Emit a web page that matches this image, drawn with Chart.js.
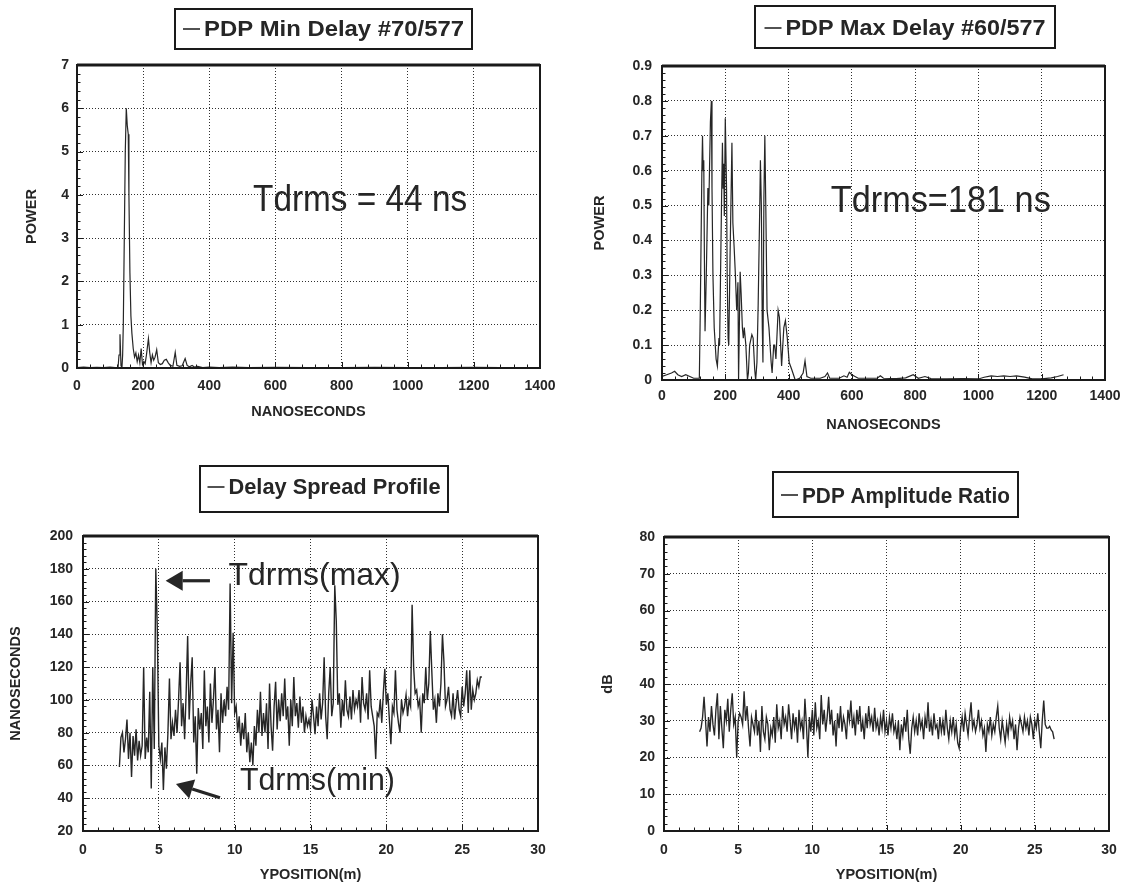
<!DOCTYPE html>
<html><head><meta charset="utf-8">
<script src="https://cdn.jsdelivr.net/npm/chart.js@4.4.1/dist/chart.umd.min.js"></script>
<style>
html,body{margin:0;padding:0;background:#fff;}
#wrap{position:relative;width:1133px;height:888px;overflow:hidden;background:#fff;}
canvas{position:absolute;}
</style></head><body>
<div id="wrap">
<canvas id="cMin" style="left:0px;top:0px;width:566px;height:444px" width="566" height="444"></canvas>
<canvas id="cMax" style="left:566px;top:0px;width:567px;height:444px" width="567" height="444"></canvas>
<canvas id="cSpread" style="left:0px;top:444px;width:566px;height:444px" width="566" height="444"></canvas>
<canvas id="cRatio" style="left:566px;top:444px;width:567px;height:444px" width="567" height="444"></canvas>
</div>
<script>
// ---------- DATA ----------
const pdpMinDelayNs = [0,20,40,60,80,100,115,124,127,130,133,136,138,140,143,146,149,152,155,157,160,163,166,170,174,178,182,186,190,194,198,202,206,210,216,220,224,228,232,236,241,246,252,258,264,270,276,282,290,297,302,310,318,327,333,340,348,356,365,380,400,430,470,520,600,700,800,900,1000,1100,1200,1280];
const pdpMinDelayPower = [0.01,0.02,0.01,0.015,0.01,0.02,0.01,0,0.3,0.78,0.05,0.02,0.3,1.0,3.0,5.0,6.0,5.6,5.4,4.0,2.2,1.2,0.8,0.45,0.25,0.35,0.15,0.3,0.12,0.45,0.08,0.15,0.1,0.3,0.68,0.35,0.12,0.3,0.18,0.25,0.42,0.12,0.08,0.1,0.18,0.2,0.12,0.06,0.04,0.36,0.06,0.04,0.05,0.22,0.06,0.03,0.06,0.02,0.04,0.01,0.02,0.01,0.02,0.01,0.015,0.01,0.01,0.015,0.01,0.01,0.015,0.01];

const pdpMaxDelayNs = [0,15,30,40,50,62,75,88,100,118,121,126,128,130,132,134,136,140,145,148,153,156,158,161,165,171,175,180,182,188,191,193,195,197,200,204,206,209,211,215,221,224,228,232,236,240,242,247,250,254,257,260,265,270,273,277,284,288,293,296,300,304,309,311,314,317,319,322,325,328,332,338,345,348,353,356,360,367,371,375,378,385,390,396,402,410,421,435,446,452,458,470,500,515,523,530,560,575,585,592,600,620,650,680,690,700,740,770,794,810,831,850,900,950,1000,1018,1040,1060,1080,1100,1120,1146,1170,1200,1230,1250,1269];
const pdpMaxDelayPower = [0.01,0.015,0.02,0.025,0.015,0.01,0.015,0.01,0.005,0.005,0.2,0.6,0.7,0.6,0.63,0.35,0.14,0.3,0.55,0.5,0.74,0.8,0.55,0.3,0.15,0.06,0.04,0.12,0.1,0.5,0.68,0.55,0.62,0.47,0.75,0.55,0.3,0.12,0.1,0.35,0.68,0.45,0.38,0.3,0.2,0.28,0.0,0.31,0.25,0.15,0.12,0.15,0.1,0.0,0.02,0.1,0.13,0.12,0.03,0.0,0.05,0.22,0.5,0.63,0.5,0.15,0.05,0.52,0.7,0.5,0.2,0.15,0.05,0.02,0.1,0.1,0.06,0.2,0.18,0.1,0.04,0.15,0.17,0.12,0.05,0.03,0.0,0.005,0.02,0.055,0.01,0.005,0.005,0.01,0.02,0.005,0.005,0.012,0.008,0.022,0.015,0.005,0.005,0.005,0.012,0.005,0.004,0.006,0.015,0.005,0.01,0.004,0.003,0.004,0.003,0.008,0.012,0.01,0.012,0.01,0.012,0.008,0.003,0.003,0.006,0.01,0.015];

// Y position sampling grid (m)
const positionStart = 2.4;
const positionStep = 0.1;

const delaySpreadNs = [
59,77,80,68,76,88,64,80,53,78,
66,82,63,75,66,72,120,64,77,68,
105,46,120,70,180,143,72,64,74,45,
71,58,80,113,76,86,78,94,80,100,
123,84,98,76,104,139,88,110,126,74,
90,55,95,82,92,70,118,84,96,74,
110,86,100,120,82,94,68,104,86,100,
90,108,94,171,98,141,92,96,80,90,
72,86,76,92,68,80,62,74,60,84,
72,94,80,105,78,92,80,98,70,110,
84,69,96,111,82,100,87,104,90,113,
88,96,72,100,84,114,90,98,83,102,
86,96,80,90,84,88,82,100,90,79,
96,84,104,88,98,126,90,76,104,120,
90,98,170,148,97,104,83,100,90,112,
94,90,102,88,106,94,100,96,106,86,
114,98,94,104,88,118,96,90,84,64,
92,90,100,86,104,119,97,104,88,73,
96,92,118,94,86,80,100,92,96,103,
90,100,96,158,120,104,106,96,100,80,
104,98,120,100,110,142,117,94,100,86,
104,96,110,140,123,96,100,108,94,90,
104,88,98,106,94,90,108,96,104,118,
92,118,94,106,100,104,112,108,114,114];

const amplitudeRatioDb = [
27,28,31,36.5,30,23,31,27,34,29,
26,33,37.5,25,34,28,22.5,33,30,36,
27,33,37.5,29,31,20,30,32,31,29,
38,30,34,28,23,31,29,27,33,26,
30,21.5,34,27,25,31,29,22,28,26,
31,24,34.5,28,30,25,34,29,31,27,
34.5,30,25,32,28,31,24,33,28,30,
25,36,29,20,31,27,33,26,35,28,
30,25,37,29,33,27,31,36.5,29,33,
26,30,23,32,28,34,27,31,29,25,
33,30,35.5,28,31,26,33,29,34,27,
30,25,32,28,34,29,31,27,33.5,28,
30,26,31,28,33,27,30,26,31,28,
32,27,29,25,30,22,29,26,31,27,
33,25,21,28,31,27,30,26,32,28,
30,25,31,28,35,27,30,26,32,28,
29,25,31,27,30,26,33,28,25,30,
27,31,26,29,24,22.5,28,31,27,32,
29,26,31,35,28,30,27,29,33,28,
30,26,28,21.5,29,27,31,26,29,27,
31,34,28,25,30,27,24,29,26,31,
28,30,25,29,22,28,31,29,27,31,
28,30,26,31,29,25,30,28,32,27,
22.5,30,35.5,29,28,28,28.5,27.5,27,25];

// tick values
const nsTicks = [0,200,400,600,800,1000,1200,1400];
const minPowerTicks = [0,1,2,3,4,5,6,7];
const maxPowerTicks = [0,0.1,0.2,0.3,0.4,0.5,0.6,0.7,0.8,0.9];
const positionTicks = [0,5,10,15,20,25,30];
const spreadTicks = [20,40,60,80,100,120,140,160,180,200];
const dbTicks = [0,10,20,30,40,50,60,70,80];

// ---------- STYLE ----------
const INK = '#262626', FRAME = '#1a1a1a', GRIDC = '#303030', TEXTC = '#262626';
const FAM = "'Liberation Sans', Arial, Helvetica, sans-serif";

function toPoints(xs, ys) { return ys.map((v, i) => ({ x: xs[i], y: v })); }
function gridPositions(n) { const a = []; for (let i = 0; i < n; i++) a.push(Math.round((positionStart + positionStep * i) * 100) / 100); return a; }

function fitText(ctx, text, x, y, width, align) {
  const w = ctx.measureText(text).width;
  const s = width ? width / w : 1;
  ctx.save();
  ctx.translate(x, y);
  ctx.scale(s, 1);
  ctx.textAlign = align;
  ctx.fillText(text, 0, 0);
  ctx.restore();
}

function makeChart(id, cfg) {
  const W = cfg.W, H = cfg.H, A = cfg.area;
  const decor = {
    id: 'decor_' + id,
    afterDraw(chart) {
      const { ctx, chartArea: a, scales: { x, y } } = chart;
      ctx.save();
      // notes
      ctx.fillStyle = TEXTC;
      for (const t of cfg.notes) {
        ctx.font = t.font; ctx.textBaseline = t.baseline;
        fitText(ctx, t.text, x.getPixelForValue(t.x), y.getPixelForValue(t.y), t.width, t.align);
      }
      for (const ar of cfg.arrows) {
        const x0 = x.getPixelForValue(ar.x0), y0 = y.getPixelForValue(ar.y0);
        const x1 = x.getPixelForValue(ar.x1), y1 = y.getPixelForValue(ar.y1);
        const ang = Math.atan2(y1 - y0, x1 - x0);
        const hl = 17, hw = 10;
        const bx = x1 - hl * Math.cos(ang), by = y1 - hl * Math.sin(ang);
        ctx.strokeStyle = TEXTC; ctx.lineWidth = 3.2;
        ctx.beginPath(); ctx.moveTo(x0, y0); ctx.lineTo(bx, by); ctx.stroke();
        ctx.beginPath();
        ctx.moveTo(x1, y1);
        ctx.lineTo(bx + hw * Math.sin(ang), by - hw * Math.cos(ang));
        ctx.lineTo(bx - hw * Math.sin(ang), by + hw * Math.cos(ang));
        ctx.closePath(); ctx.fill();
      }
      // tick marks (inward) on left and bottom
      ctx.strokeStyle = FRAME; ctx.lineWidth = 1;
      ctx.beginPath();
      const xt = cfg.xTicks, yt = cfg.yTicks, n = 5;
      for (let k = 0; k < xt.length; k++) {
        const px = Math.round(x.getPixelForValue(xt[k])) + 0.5;
        ctx.moveTo(px, a.bottom); ctx.lineTo(px, a.bottom - 6);
        if (k < xt.length - 1) for (let m = 1; m < n; m++) {
          const mp = Math.round(x.getPixelForValue(xt[k] + (xt[k + 1] - xt[k]) * m / n)) + 0.5;
          ctx.moveTo(mp, a.bottom); ctx.lineTo(mp, a.bottom - 3.5);
        }
      }
      for (let k = 0; k < yt.length; k++) {
        const py = Math.round(y.getPixelForValue(yt[k])) + 0.5;
        ctx.moveTo(a.left, py); ctx.lineTo(a.left + 6, py);
        if (k < yt.length - 1) for (let m = 1; m < n; m++) {
          const mp = Math.round(y.getPixelForValue(yt[k] + (yt[k + 1] - yt[k]) * m / n)) + 0.5;
          ctx.moveTo(a.left, mp); ctx.lineTo(a.left + 3.5, mp);
        }
      }
      ctx.stroke();
      // frame
      ctx.lineWidth = 2; ctx.strokeStyle = FRAME;
      ctx.strokeRect(a.left, a.top, a.right - a.left, a.bottom - a.top);
      ctx.beginPath(); ctx.moveTo(a.left, a.top); ctx.lineTo(a.right, a.top); ctx.lineWidth = 3; ctx.stroke();
      // legend box
      const L = cfg.legend, label = chart.data.datasets[0].label;
      ctx.lineWidth = 2;
      ctx.strokeRect(L.x, L.y, L.w, L.h);
      ctx.font = 'bold 22px ' + FAM; ctx.textBaseline = 'alphabetic';
      const sw = 17, gap = 4;
      const sx = L.x + (L.w - (sw + gap + L.tw)) / 2;
      ctx.lineWidth = 1.6; ctx.strokeStyle = INK;
      ctx.beginPath(); ctx.moveTo(sx, L.lineY); ctx.lineTo(sx + sw, L.lineY); ctx.stroke();
      ctx.fillStyle = TEXTC;
      fitText(ctx, label, sx + sw + gap, L.base, L.tw, 'left');
      ctx.restore();
    }
  };
  const tickFont = { family: FAM, size: 14, weight: 'bold' };
  const titleFont = { family: FAM, size: 14.5, weight: 'bold' };
  return new Chart(document.getElementById(id), {
    type: 'line',
    data: { datasets: [{ label: cfg.label, data: cfg.points, borderColor: INK, borderWidth: cfg.lineW, pointRadius: 0, tension: 0, fill: false }] },
    options: {
      responsive: false, animation: false, events: [],
      layout: { padding: { left: 0, top: A.top, right: W - A.right, bottom: H - A.bottom - cfg.xAxisH } },
      plugins: { legend: { display: false }, tooltip: { enabled: false } },
      scales: {
        x: {
          type: 'linear', min: cfg.xTicks[0], max: cfg.xTicks[cfg.xTicks.length - 1],
          afterBuildTicks: s => { s.ticks = cfg.xTicks.map(v => ({ value: v })); },
          ticks: { font: tickFont, color: TEXTC, padding: cfg.xTickPad, maxRotation: 0, autoSkip: false, callback: v => String(v) },
          grid: { color: GRIDC, lineWidth: 1, drawTicks: false },
          border: { display: false, dash: [1, 2] },
          title: { display: true, text: cfg.xTitle, font: titleFont, color: TEXTC, padding: { top: 0, bottom: 3 } },
          afterFit: s => { s.height = cfg.xAxisH; }
        },
        y: {
          type: 'linear', min: cfg.yTicks[0], max: cfg.yTicks[cfg.yTicks.length - 1],
          afterBuildTicks: s => { s.ticks = cfg.yTicks.map(v => ({ value: v })); },
          ticks: { font: tickFont, color: TEXTC, padding: cfg.yTickPad, autoSkip: false, callback: v => String(v) },
          grid: { color: GRIDC, lineWidth: 1, drawTicks: false },
          border: { display: false, dash: [1, 2] },
          title: { display: true, text: cfg.yTitle, font: titleFont, color: TEXTC, padding: { top: cfg.yTitleOff, bottom: 0 } },
          afterFit: s => { s.width = A.left; }
        }
      }
    },
    plugins: [decor]
  });
}

makeChart('cMin', {
  W: 566, H: 444, area: { left: 77, right: 540, top: 65, bottom: 368 }, xAxisH: 56, xTickPad: 10, yTickPad: 8, yTitleOff: 23, lineW: 1.2,
  label: 'PDP Min Delay #70/577', points: toPoints(pdpMinDelayNs, pdpMinDelayPower),
  xTicks: nsTicks, yTicks: minPowerTicks, xTitle: 'NANOSECONDS', yTitle: 'POWER',
  legend: { x: 175, y: 9, w: 297, h: 40, lineY: 29, base: 36, tw: 260 },
  notes: [{ text: 'Tdrms = 44 ns', x: 856, y: 3.86, font: '37px ' + FAM, align: 'center', baseline: 'middle', width: 214 }],
  arrows: []
});

makeChart('cMax', {
  W: 567, H: 444, area: { left: 96, right: 539, top: 66, bottom: 380 }, xAxisH: 57, xTickPad: 8, yTickPad: 10, yTitleOff: 25, lineW: 1.2,
  label: 'PDP Max Delay #60/577', points: toPoints(pdpMaxDelayNs, pdpMaxDelayPower),
  xTicks: nsTicks, yTicks: maxPowerTicks, xTitle: 'NANOSECONDS', yTitle: 'POWER',
  legend: { x: 189, y: 6, w: 300, h: 42, lineY: 28, base: 35, tw: 260 },
  notes: [{ text: 'Tdrms=181 ns', x: 881, y: 0.51, font: '37px ' + FAM, align: 'center', baseline: 'middle', width: 220 }],
  arrows: []
});

makeChart('cSpread', {
  W: 566, H: 444, area: { left: 83, right: 538, top: 92, bottom: 387 }, xAxisH: 56, xTickPad: 11, yTickPad: 10, yTitleOff: 7, lineW: 1.4,
  label: 'Delay Spread Profile', points: toPoints(gridPositions(delaySpreadNs.length), delaySpreadNs),
  xTicks: positionTicks, yTicks: spreadTicks, xTitle: 'YPOSITION(m)', yTitle: 'NANOSECONDS',
  legend: { x: 200, y: 22, w: 248, h: 46, lineY: 43, base: 50, tw: 212 },
  notes: [
    { text: 'Tdrms(max)', x: 9.6, y: 170, font: '32px ' + FAM, align: 'left', baseline: 'alphabetic', width: 172 },
    { text: 'Tdrms(min)', x: 10.35, y: 45, font: '32px ' + FAM, align: 'left', baseline: 'alphabetic', width: 155 }
  ],
  arrows: [
    { x0: 8.37, y0: 172.7, x1: 5.45, y1: 172.7 },
    { x0: 9.03, y0: 40.3, x1: 6.13, y1: 48.7 }
  ]
});

makeChart('cRatio', {
  W: 567, H: 444, area: { left: 98, right: 543, top: 93, bottom: 387 }, xAxisH: 56, xTickPad: 11, yTickPad: 9, yTitleOff: 33, lineW: 1.35,
  label: 'PDP Amplitude Ratio', points: toPoints(gridPositions(amplitudeRatioDb.length), amplitudeRatioDb),
  xTicks: positionTicks, yTicks: dbTicks, xTitle: 'YPOSITION(m)', yTitle: 'dB',
  legend: { x: 207, y: 28, w: 245, h: 45, lineY: 51, base: 59, tw: 208 },
  notes: [], arrows: []
});
</script>
</body></html>
